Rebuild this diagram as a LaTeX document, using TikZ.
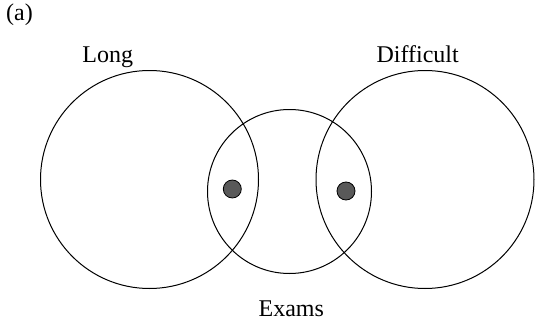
\documentclass[tikz,border=0pt]{standalone}
\usepackage{fontspec}
\setmainfont{Liberation Serif}
\usepackage{xcolor}
\usetikzlibrary{positioning}
\definecolor{dotgray}{HTML}{595959}
\tikzset{
  setcirc/.style={draw, circle, line width=0.5pt, inner sep=0pt, minimum size=109pt},
  member/.style={draw, circle, fill=dotgray, line width=0.4pt, inner sep=0pt, minimum size=9pt},
  lbl/.style={anchor=base, inner sep=0pt, font=\fontsize{12}{14}\selectfont},
}

\begin{document}
\begin{tikzpicture}[x=0.5pt, y=-0.5pt]
  \useasboundingbox (0,0) rectangle (536,321);
  \node[lbl] (tag) at (19.5,20.7) {(a)};
  % the three sets
  \node[setcirc] (long) at (149.5,179.5) {};
  \node[setcirc] (diff) at (425,179.5) {};
  \node[setcirc, minimum size=82pt] (exams) at (289.5,191.5) {};
  \node[lbl] (longlbl) at (107.7,62) {Long};
  \node[lbl] (difflbl) at (417.7,62) {Difficult};
  \node[lbl] (examslbl) at (291.3,316.5) {Exams};
  % members
  \node[member] (m1) at (232.3,189) {};
  \node[member] (m2) at (346,191) {};
\end{tikzpicture}
\end{document}
